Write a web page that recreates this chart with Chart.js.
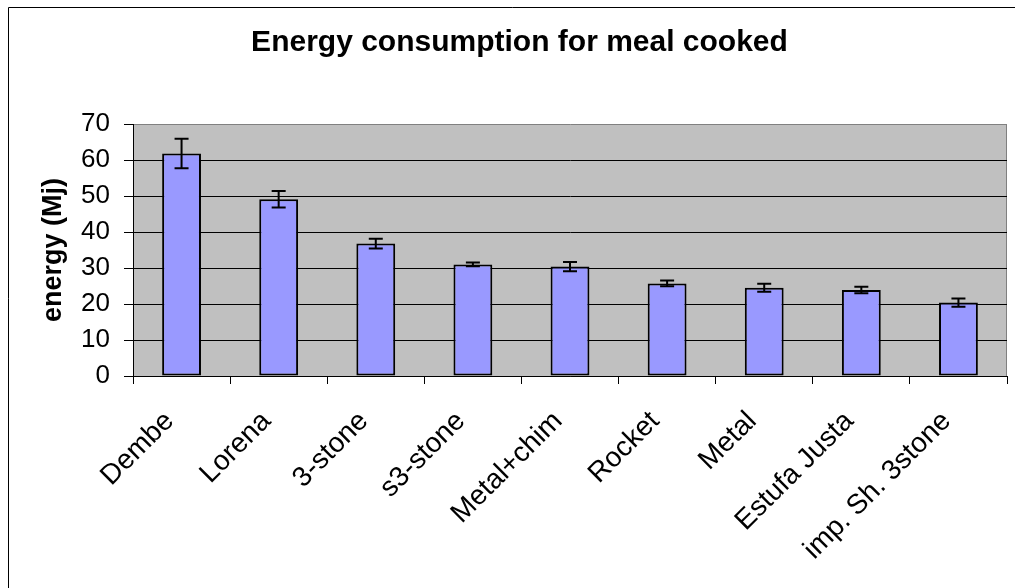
<!DOCTYPE html>
<html>
<head>
<meta charset="utf-8">
<script src="https://cdn.jsdelivr.net/npm/chart.js@4/dist/chart.umd.min.js"></script>
<style>
  html, body { margin: 0; padding: 0; background: #fff; }
  #wrap { position: relative; width: 1015px; height: 588px; }
</style>
</head>
<body>
<div id="wrap"><canvas id="energy-chart" width="1015" height="588"></canvas></div>
<script>
// stove types and measured energy per meal (MJ), with error bar half widths
let stoves = ["Dembe", "Lorena", "3-stone", "s3-stone", "Metal+chim", "Rocket", "Metal", "Estufa Justa", "imp. Sh. 3stone"];
let energy = [61.8, 49.1, 36.8, 31.0, 30.4, 25.7, 24.5, 23.9, 20.4];
let errors = [4.1, 2.3, 1.35, 0.5, 1.3, 0.8, 1.1, 0.9, 1.15];
let yTicks = [0, 10, 20, 30, 40, 50, 60, 70];

const FONT = "'Liberation Sans', Arial, sans-serif";

// grey plot area, chart frame and right edge
const plotBackground = {
  id: 'plotBackground',
  beforeDraw(chart) {
    const c = chart.ctx, a = chart.chartArea;
    c.save();
    c.fillStyle = '#c0c0c0';
    c.fillRect(a.left, a.top, a.right - a.left, a.bottom - a.top);
    c.strokeStyle = '#000';
    c.lineWidth = 1;
    c.beginPath();
    c.moveTo(8.5, 600);
    c.lineTo(8.5, 7.5);
    c.lineTo(1020, 7.5);
    c.stroke();
    c.strokeStyle = '#808080';
    c.beginPath();
    c.moveTo(a.right - 0.5, a.top);
    c.lineTo(a.right - 0.5, a.bottom);
    c.stroke();
    c.restore();
  }
};

const errorBars = {
  id: 'errorBars',
  afterDatasetsDraw(chart) {
    const c = chart.ctx;
    const y = chart.scales.y;
    const meta = chart.getDatasetMeta(0);
    c.save();
    c.strokeStyle = '#000';
    c.lineWidth = 2;
    meta.data.forEach(function (bar, i) {
      const hi = y.getPixelForValue(energy[i] + errors[i]);
      const lo = y.getPixelForValue(energy[i] - errors[i]);
      c.beginPath();
      c.moveTo(bar.x, hi); c.lineTo(bar.x, lo);
      c.moveTo(bar.x - 7, hi); c.lineTo(bar.x + 7, hi);
      c.moveTo(bar.x - 7, lo); c.lineTo(bar.x + 7, lo);
      c.stroke();
    });
    c.restore();
  }
};

new Chart(document.getElementById('energy-chart'), {
  type: 'bar',
  data: {
    labels: stoves,
    datasets: [{
      label: 'energy',
      data: energy,
      backgroundColor: '#9999ff',
      borderColor: '#000',
      borderWidth: 2,
      borderSkipped: false,
      barPercentage: 0.4,
      categoryPercentage: 1.0
    }]
  },
  options: {
    responsive: false,
    animation: false,
    layout: { padding: { left: 32, right: 8, top: 0, bottom: 0 } },
    plugins: {
      legend: { display: false },
      tooltip: { enabled: false },
      title: {
        display: true,
        text: 'Energy consumption for meal cooked',
        color: '#000',
        font: { family: FONT, size: 30, weight: 'bold' },
        padding: { top: 25, bottom: 63 }
      }
    },
    scales: {
      x: {
        afterFit(s) { s.height = 212; },
        border: { color: '#000', width: 1 },
        grid: { drawOnChartArea: false, tickLength: 8, tickColor: '#000' },
        ticks: {
          color: '#000',
          font: { family: FONT, size: 28 },
          minRotation: 45,
          maxRotation: 45,
          padding: 21,
          labelOffset: -12,
          autoSkip: false
        }
      },
      y: {
        min: 0,
        max: 70,
        afterFit(s) { s.width = 101; },
        afterBuildTicks(s) { s.ticks = yTicks.map(v => ({ value: v })); },
        border: { color: '#000', width: 1 },
        grid: {
          color: ctx => (ctx.tick && ctx.tick.value === 70) ? '#808080' : '#000',
          tickColor: '#000',
          tickLength: 9
        },
        ticks: {
          color: '#000',
          font: { family: FONT, size: 26 },
          padding: 14
        },
        title: {
          display: true,
          text: 'energy (Mj)',
          color: '#000',
          font: { family: FONT, size: 27, weight: 'bold' },
          padding: { top: 5, bottom: 0 }
        }
      }
    }
  },
  plugins: [plotBackground, errorBars]
});
</script>
</body>
</html>
